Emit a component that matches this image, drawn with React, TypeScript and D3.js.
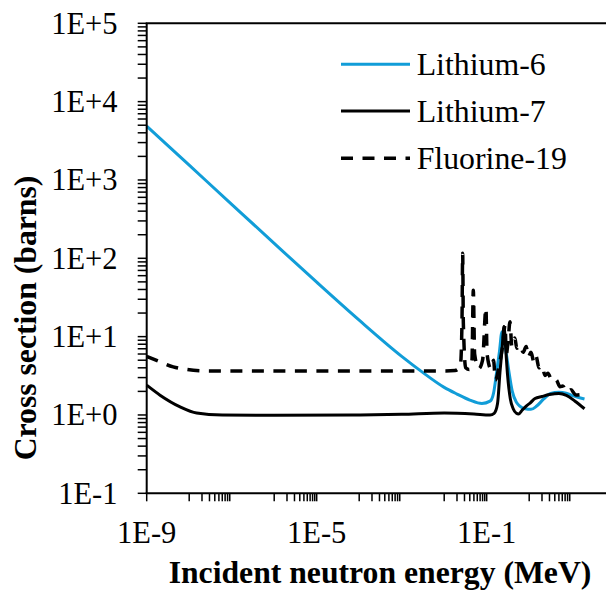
import React from "react";
import * as d3 from "d3";

// ---- data (energy in MeV, cross section in barns) ----
const lithium6: [number, number][] = [
  [1e-9, 4880], [1e-8, 1545], [1e-7, 489], [1e-6, 155], [1e-5, 49.5], [1e-4, 16.2],
  [1e-3, 5.6], [3e-3, 3.55], [1e-2, 2.25], [2e-2, 1.85], [4e-2, 1.55], [7.7e-2, 1.4],
  [0.12, 1.5], [0.145, 1.9], [0.17, 3.4], [0.2, 6.5], [0.228, 11.5], [0.255, 9.5],
  [0.29, 6.0], [0.33, 3.7], [0.4, 2.0], [0.5, 1.45], [0.6, 1.3], [0.8, 1.2],
  [1.1, 1.18], [1.5, 1.3], [2.2, 1.6], [3.2, 1.88], [5, 1.95], [7.4, 1.9], [10, 1.78], [20, 1.6],
];

const lithium7: [number, number][] = [
  [1e-9, 2.4], [2.06e-9, 1.79], [6.1e-9, 1.27], [1.5e-8, 1.06], [6e-8, 1.0], [1e-6, 0.99],
  [1e-4, 1.0], [1e-3, 1.02], [1e-2, 1.06], [5e-2, 1.03], [0.12, 1.0], [0.15, 1.05],
  [0.18, 1.4], [0.205, 3.5], [0.23, 7], [0.255, 13.5], [0.28, 7], [0.31, 3.2], [0.36, 1.6],
  [0.42, 1.2], [0.5, 1.05], [0.56, 1.03], [0.68, 1.15], [0.85, 1.3], [1.05, 1.42],
  [1.37, 1.62], [2.0, 1.72], [3.0, 1.82], [5.0, 1.88], [7.5, 1.78], [12, 1.5], [20, 1.2],
];

const fluorine19: [number, number][] = [
  [1e-9, 5.6], [2.06e-9, 4.77], [4.2e-9, 4.11], [8.7e-9, 3.81], [2.6e-8, 3.65], [1e-6, 3.63],
  [1e-4, 3.63], [1e-2, 3.65], [1.8e-2, 3.7], [2.4e-2, 4.2], [2.62e-2, 15], [2.72e-2, 116],
  [2.82e-2, 15], [3.2e-2, 4.0], [3.9e-2, 3.8], [4.5e-2, 5.0], [4.84e-2, 39], [5.2e-2, 6],
  [6.5e-2, 3.9], [8.0e-2, 5.0], [9.6e-2, 23], [0.102, 6], [0.125, 3.9], [0.145, 5.0],
  [0.16, 2.8], [0.2, 4.5], [0.24, 8], [0.27, 14], [0.29, 6], [0.32, 9], [0.353, 15.5],
  [0.39, 7.5], [0.416, 8.3], [0.46, 9.6], [0.51, 7.1], [0.61, 7.8], [0.72, 6.3], [0.85, 7.5],
  [0.95, 5.5], [1.1, 6.3], [1.3, 4.7], [1.45, 5.6], [1.7, 4.0], [2.0, 4.3], [2.35, 3.2],
  [2.75, 3.4], [3.5, 2.7], [4.3, 2.8], [5.3, 2.3], [6.2, 2.35], [7.6, 1.95], [9.6, 2.1],
  [12.5, 1.8], [20, 1.85],
];

const xMajorTicks = [1e-9, 1e-5, 1e-1, 1e3];
const xMajorLabels = ["1E-9", "1E-5", "1E-1", ""];
const xMinorDecades = [1e-8, 1e-6, 1e-4, 1e-2, 1];
const minorMultipliers = [1, 2, 3, 4, 5, 6, 7, 8, 9];

const yMajorTicks = [1e-1, 1e0, 1e1, 1e2, 1e3, 1e4, 1e5];
const yMajorLabels = ["1E-1", "1E+0", "1E+1", "1E+2", "1E+3", "1E+4", "1E+5"];
const yMinorMultipliers = [2, 3, 4, 5, 6, 7, 8, 9];

const seriesNames = ["Lithium-6", "Lithium-7", "Fluorine-19"];
const seriesColors = ["#119DD8", "#000000", "#000000"];
const seriesDash = [null, null, "12,9.5"];

const W = 606;
const H = 591;
const plotLeft = 146.7;
const plotTop = 23.3;
const plotBottom = 493.3;
const font = "'Liberation Serif', 'Times New Roman', serif";

export default function App() {
  const x = d3.scaleLog().domain([1e-9, 1e3]).range([plotLeft, plotLeft + 12 * 42.5]);
  const y = d3.scaleLog().domain([1e-1, 1e5]).range([plotBottom, plotTop]);
  const line = d3
    .line<[number, number]>()
    .x((d) => x(d[0]))
    .y((d) => y(d[1]))
    .curve(d3.curveMonotoneX);

  const data = [lithium6, lithium7, fluorine19];

  const xMinor: number[] = [];
  xMinorDecades.forEach((b) => minorMultipliers.forEach((m) => xMinor.push(b * m)));
  const yMinor: number[] = [];
  yMajorTicks.slice(0, -1).forEach((b) => yMinorMultipliers.forEach((m) => yMinor.push(b * m)));

  const legendY = [64.3, 111, 158.3];

  return (
    <div style={{ position: "absolute", left: 0, top: 0 }}>
      <svg width={W} height={H} style={{ display: "block", background: "#fff" }}>
        {/* series */}
        {data.map((d, i) => (
          <path
            key={i}
            d={line(d) || ""}
            fill="none"
            stroke={seriesColors[i]}
            strokeWidth={i === 2 ? 3.5 : 3}
            strokeDasharray={seriesDash[i] || undefined}
            strokeLinejoin="round"
          />
        ))}

        {/* y axis */}
        <line x1={plotLeft} x2={plotLeft} y1={plotTop} y2={plotBottom} stroke="#000" strokeWidth={2} />
        {[...yMajorTicks, ...yMinor].map((v, i) => (
          <line key={"yt" + i} x1={plotLeft - 9} x2={plotLeft} y1={y(v)} y2={y(v)} stroke="#000" strokeWidth={1.5} />
        ))}
        {yMajorTicks.map((v, i) => (
          <text key={"yl" + i} x={117.5} y={y(v) + 10.5} textAnchor="end" fontFamily={font} fontSize={30.5} fill="#000">
            {yMajorLabels[i]}
          </text>
        ))}

        {/* x axis */}
        <line x1={plotLeft - 1} x2={W + 10} y1={plotBottom} y2={plotBottom} stroke="#000" strokeWidth={2} />
        <line x1={plotLeft - 1} x2={W + 10} y1={plotTop} y2={plotTop} stroke="#000" strokeWidth={2} />
        {[...xMajorTicks, ...xMinor].map((v, i) => (
          <line key={"xt" + i} x1={x(v)} x2={x(v)} y1={plotBottom} y2={plotBottom + 8} stroke="#000" strokeWidth={1.5} />
        ))}
        {xMajorTicks.map((v, i) =>
          xMajorLabels[i] ? (
            <text key={"xl" + i} x={x(v)} y={543} textAnchor="middle" fontFamily={font} fontSize={30.5} fill="#000">
              {xMajorLabels[i]}
            </text>
          ) : null
        )}

        {/* axis titles */}
        <text x={380} y={583} textAnchor="middle" fontFamily={font} fontWeight="bold" fontSize={31.7} fill="#000">
          Incident neutron energy (MeV)
        </text>
        <text
          transform={`translate(36,318) rotate(-90)`}
          textAnchor="middle"
          fontFamily={font}
          fontWeight="bold"
          fontSize={31.7}
          fill="#000"
        >
          Cross section (barns)
        </text>

        {/* legend */}
        {seriesNames.map((name, i) => (
          <g key={"lg" + i}>
            <line
              x1={341}
              x2={410}
              y1={legendY[i]}
              y2={legendY[i]}
              stroke={seriesColors[i]}
              strokeWidth={i === 2 ? 3.5 : 3}
              strokeDasharray={seriesDash[i] || undefined}
            />
            <text x={416.7} y={legendY[i] + 10.7} fontFamily={font} fontSize={31.8} fill="#000">
              {name}
            </text>
          </g>
        ))}
      </svg>
    </div>
  );
}
